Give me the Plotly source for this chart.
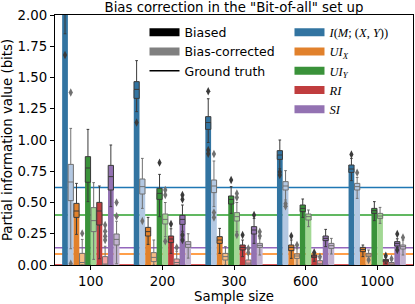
import plotly.graph_objects as go

# ---------------- data ----------------
sample_sizes = ["100", "200", "300", "600", "1000"]
measures = ["I", "UIX", "UIY", "RI", "SI"]
measure_labels = [
    "<i>I</i>(<i>M</i>; (<i>X</i>, <i>Y</i>))",
    "<i>UI</i><sub><i>X</i></sub>",
    "<i>UI</i><sub><i>Y</i></sub>",
    "<i>RI</i>",
    "<i>SI</i>",
]
ground_truth = [0.621, 0.088, 0.40, 0.0, 0.139]

# box stats per sample size: (lower whisker, q1, median, q3, upper whisker)
I_biased_box = [(1.85, 2.02, 2.08, 2.15, 2.30), (1.227, 1.333, 1.405, 1.467, 1.635),
                (0.98, 1.085, 1.14, 1.187, 1.33), (0.77, 0.845, 0.88, 0.915, 1.0),
                (0.675, 0.741, 0.768, 0.80, 0.853)]
I_biased_mean = [2.10, 1.40, 1.14, 0.88, 0.77]
I_biased_out = [[1.68], [1.14], [1.39, 0.92, 0.89], [0.745, 0.72], [0.885]]

I_corr_box = [(0.13, 0.515, 0.664, 0.805, 1.093), (0.453, 0.568, 0.627, 0.688, 0.853),
              (0.467, 0.579, 0.632, 0.68, 0.832), (0.52, 0.60, 0.632, 0.667, 0.755),
              (0.533, 0.60, 0.627, 0.653, 0.701)]
I_corr_mean = [0.66, 0.63, 0.63, 0.63, 0.63]
I_corr_out = [[1.38, 0.01], [0.352], [0.888, 0.42, 0.38], [0.49, 0.47], [0.739]]

UIX_biased_box = [(0.245, 0.381, 0.432, 0.493, 0.653), (0.165, 0.232, 0.267, 0.301, 0.381),
                  (0.093, 0.173, 0.20, 0.227, 0.293), (0.053, 0.115, 0.141, 0.16, 0.20),
                  (0.067, 0.107, 0.125, 0.141, 0.16)]
UIX_biased_mean = [0.43, 0.27, 0.20, 0.14, 0.125]
UIX_biased_out = [[], [], [], [0.232], []]

UIX_corr_box = [(0.0, 0.0, 0.02, 0.093, 0.205), (0.0, 0.027, 0.061, 0.099, 0.20),
                (0.0, 0.04, 0.067, 0.093, 0.147), (0.0, 0.053, 0.072, 0.088, 0.13),
                (0.05, 0.067, 0.08, 0.093, 0.12)]
UIX_corr_mean = [0.06, 0.065, 0.067, 0.07, 0.08]
UIX_corr_out = [[0.253], [], [], [0.16], [0.04]]

UIY_biased_box = [(0.507, 0.662, 0.776, 0.867, 1.085), (0.387, 0.525, 0.573, 0.613, 0.725),
                  (0.413, 0.488, 0.525, 0.552, 0.627), (0.381, 0.427, 0.453, 0.48, 0.528),
                  (0.355, 0.413, 0.435, 0.453, 0.507)]
UIY_biased_mean = [0.77, 0.57, 0.52, 0.45, 0.435]
UIY_biased_out = [[], [0.819], [0.68], [], []]

UIY_corr_box = [(0.045, 0.267, 0.355, 0.459, 0.659), (0.227, 0.328, 0.365, 0.408, 0.50),
                (0.267, 0.352, 0.387, 0.419, 0.50), (0.307, 0.36, 0.387, 0.408, 0.44),
                (0.333, 0.373, 0.392, 0.413, 0.461)]
UIY_corr_mean = [0.36, 0.37, 0.39, 0.385, 0.39]
UIY_corr_out = [[], [0.60, 0.56, 0.19], [0.573, 0.54, 0.24], [], []]

RI_biased_box = [(0.05, 0.32, 0.432, 0.501, 0.632), (0.093, 0.179, 0.208, 0.232, 0.29),
                 (0.067, 0.12, 0.141, 0.16, 0.20), (0.03, 0.061, 0.072, 0.08, 0.09),
                 (0.01, 0.025, 0.035, 0.045, 0.06)]
RI_biased_mean = [0.42, 0.21, 0.14, 0.07, 0.035]
RI_biased_out = [[], [0.328], [0.24], [0.10], [0.075]]

RI_corr_box = [(0.0, 0.0, 0.0, 0.067, 0.15), (0.0, 0.0, 0.02, 0.048, 0.11),
               (0.0, 0.0, 0.015, 0.04, 0.09), (0.0, 0.0, 0.01, 0.035, 0.05),
               (0.0, 0.0, 0.008, 0.02, 0.04)]
RI_corr_mean = [0.04, 0.03, 0.025, 0.02, 0.012]
RI_corr_out = [[0.32, 0.27, 0.23, 0.20], [0.141], [0.133, 0.099], [0.067], [0.05]]

SI_biased_box = [(0.467, 0.60, 0.707, 0.797, 0.96), (0.27, 0.325, 0.365, 0.397, 0.48),
                 (0.173, 0.248, 0.28, 0.307, 0.373), (0.147, 0.195, 0.213, 0.232, 0.285),
                 (0.14, 0.152, 0.173, 0.187, 0.21)]
SI_biased_mean = [0.70, 0.36, 0.28, 0.21, 0.17]
SI_biased_out = [[], [0.56, 0.525, 0.24, 0.20], [0.40], [], [0.248, 0.12]]

SI_corr_box = [(0.01, 0.16, 0.205, 0.248, 0.35), (0.055, 0.141, 0.165, 0.187, 0.25),
               (0.08, 0.141, 0.157, 0.173, 0.21), (0.088, 0.133, 0.155, 0.173, 0.213),
               (0.08, 0.128, 0.147, 0.16, 0.20)]
SI_corr_mean = [0.20, 0.165, 0.157, 0.155, 0.147]
SI_corr_out = [[0.50, 0.39], [], [0.267, 0.232], [], [0.221]]

# ---------------- styling ----------------
dark_colors = ["#3274a1", "#e1812c", "#3a923a", "#c03d3e", "#9372b2"]
light_colors = ["#b3c8e2", "#f5bd86", "#a2d894", "#f4a2a1", "#c3b4d1"]
line_colors = ["#1f77b4", "#ff7f0e", "#2ca02c", "#d62728", "#9467bd"]
edge_dark = "#3a3a3a"
edge_light = "#707070"

series = [
    (0, 0, I_biased_box, I_biased_mean, I_biased_out),
    (0, 1, I_corr_box, I_corr_mean, I_corr_out),
    (1, 0, UIX_biased_box, UIX_biased_mean, UIX_biased_out),
    (1, 1, UIX_corr_box, UIX_corr_mean, UIX_corr_out),
    (2, 0, UIY_biased_box, UIY_biased_mean, UIY_biased_out),
    (2, 1, UIY_corr_box, UIY_corr_mean, UIY_corr_out),
    (3, 0, RI_biased_box, RI_biased_mean, RI_biased_out),
    (3, 1, RI_corr_box, RI_corr_mean, RI_corr_out),
    (4, 0, SI_biased_box, SI_biased_mean, SI_biased_out),
    (4, 1, SI_corr_box, SI_corr_mean, SI_corr_out),
]

n_slots = 10
slot_w = 0.8 / n_slots
FONT = "DejaVu Sans"

fig = go.Figure()

for m, c, box, mean, out in series:
    slot = 2 * m + c
    xs = [g + (slot - (n_slots - 1) / 2) * slot_w for g in range(len(sample_sizes))]
    fill = dark_colors[m] if c == 0 else light_colors[m]
    edge = edge_dark if c == 0 else edge_light
    fig.add_trace(go.Bar(x=xs, y=mean, width=slot_w, marker=dict(color=fill, line=dict(width=0)),
                         showlegend=False, hoverinfo="skip"))
    fig.add_trace(go.Box(
        x=xs,
        lowerfence=[b[0] for b in box], q1=[b[1] for b in box], median=[b[2] for b in box],
        q3=[b[3] for b in box], upperfence=[b[4] for b in box],
        width=slot_w * 0.92, fillcolor=fill, line=dict(color=edge, width=1),
        whiskerwidth=0.5, boxpoints=False, showlegend=False, hoverinfo="skip"))
    ox, oy = [], []
    for g, pts in enumerate(out):
        for p in pts:
            ox.append(xs[g]); oy.append(p)
    if ox:
        fig.add_trace(go.Scatter(x=ox, y=oy, mode="markers",
                                 marker=dict(symbol="diamond-tall", size=6, color=edge),
                                 showlegend=False, hoverinfo="skip"))

for m, gt in enumerate(ground_truth):
    fig.add_hline(y=gt, line=dict(color=line_colors[m], width=1.5), layer="below")

# legend entries
fig.add_trace(go.Scatter(x=[None], y=[None], mode="lines", name="Biased",
                         line=dict(color="black", width=8), legend="legend"))
fig.add_trace(go.Scatter(x=[None], y=[None], mode="lines", name="Bias-corrected",
                         line=dict(color="#808080", width=8), legend="legend"))
fig.add_trace(go.Scatter(x=[None], y=[None], mode="lines", name="Ground truth",
                         line=dict(color="black", width=1.5), legend="legend"))
for m, lab in enumerate(measure_labels):
    fig.add_trace(go.Scatter(x=[None], y=[None], mode="lines", name=lab,
                             line=dict(color=dark_colors[m], width=8), legend="legend2"))

axis_common = dict(showline=True, linecolor="black", linewidth=1.3, mirror=True,
                   ticks="outside", ticklen=4, tickwidth=1.2, tickcolor="black",
                   showgrid=False, zeroline=False,
                   tickfont=dict(family=FONT, size=13.3, color="black"))

fig.update_layout(
    width=415, height=304,
    margin=dict(l=55, r=2, t=15, b=39),
    plot_bgcolor="white", paper_bgcolor="white",
    barmode="overlay", boxmode="overlay",
    title=dict(text='Bias correction in the "Bit-of-all" set up', x=0.5, xref="paper",
               y=1 - 7 / 304, yref="container", yanchor="middle", xanchor="center",
               font=dict(family=FONT, size=13.3, color="black")),
    xaxis=dict(range=[-0.5, len(sample_sizes) - 0.5], tickmode="array",
               tickvals=list(range(len(sample_sizes))), ticktext=sample_sizes,
               title=dict(text="Sample size", font=dict(family=FONT, size=13.3, color="black"),
                          standoff=4),
               **axis_common),
    yaxis=dict(range=[0, 2], tick0=0, dtick=0.25, tickformat=".2f",
               title=dict(text="Partial information value (bits)",
                          font=dict(family=FONT, size=13.3, color="black"), standoff=4),
               **axis_common),
    legend=dict(x=0.25, y=0.99, xanchor="left", yanchor="top", bgcolor="rgba(0,0,0,0)",
                font=dict(family=FONT, size=12.5, color="black"), tracegroupgap=0,
                itemwidth=30),
    legend2=dict(x=0.655, y=0.99, xanchor="left", yanchor="top", bgcolor="rgba(0,0,0,0)",
                 font=dict(family="Liberation Serif", size=12.5, color="black"), tracegroupgap=0,
                 itemwidth=30),
)

fig.write_html("out.html", post_script="document.body.style.margin='0';",
               config={"displayModeBar": False})
